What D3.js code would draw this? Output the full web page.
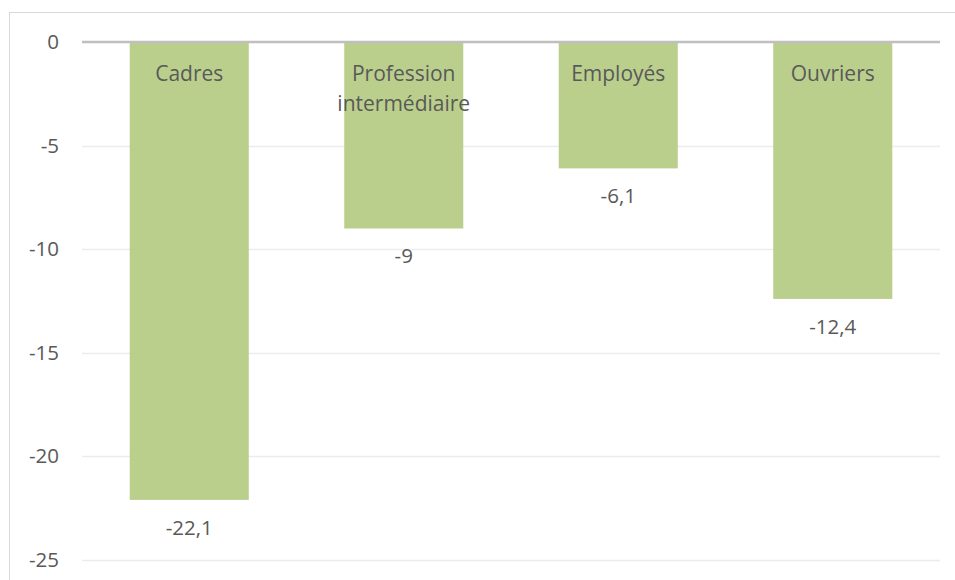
<!DOCTYPE html>
<html>
<head>
<meta charset="utf-8">
<script src="https://cdn.jsdelivr.net/npm/d3@7"></script>
<style>
  html, body { margin: 0; padding: 0; background: #fff; }
  svg { display: block; }
  text { font-family: "Open Sans", "Noto Sans", sans-serif; fill: #595959; }
</style>
</head>
<body>
<svg id="chart" width="955" height="580"></svg>
<script>
// Variation par catégorie socioprofessionnelle
const categories = ["Cadres", "Profession intermédiaire", "Employés", "Ouvriers"];
const categoryLines = [["Cadres"], ["Profession", "intermédiaire"], ["Employés"], ["Ouvriers"]];
const values = [-22.1, -9, -6.1, -12.4];
const valueLabels = ["-22,1", "-9", "-6,1", "-12,4"];
const yTicks = [0, -5, -10, -15, -20, -25];

const svg = d3.select("#chart");
const W = 955, H = 580;
const plot = { left: 82, right: 940, top: 42, bottom: 560 };
const labelSize = 21, numberSize = 20.5;

// outer chart frame
svg.append("rect")
  .attr("x", 9.5).attr("y", 12.5)
  .attr("width", W).attr("height", H)
  .attr("fill", "none").attr("stroke", "#d9d9d9").attr("stroke-width", 1);

const x = d3.scaleBand()
  .domain(categories)
  .range([plot.left, plot.right])
  .paddingInner(0.445).paddingOuter(0.2225);

const y = d3.scaleLinear()
  .domain([0, -25])
  .range([plot.top, plot.bottom]);

// horizontal gridlines
svg.append("g")
  .selectAll("line")
  .data(yTicks.filter(t => t !== 0))
  .join("line")
  .attr("x1", plot.left).attr("x2", plot.right)
  .attr("y1", d => Math.round(y(d)) + 0.5).attr("y2", d => Math.round(y(d)) + 0.5)
  .attr("stroke", "#ececec").attr("stroke-width", 1.5);

// y axis labels
const yAxis = d3.axisLeft(y).tickValues(yTicks).tickSize(0).tickPadding(0)
  .tickFormat(d => d3.format("d")(d).replace("−", "-"));
const gy = svg.append("g").attr("transform", `translate(59,0)`).call(yAxis);
gy.select(".domain").remove();
gy.selectAll("text")
  .attr("font-size", numberSize)
  .attr("font-family", "\"Open Sans\", sans-serif")
  .attr("fill", "#595959");

// bars
svg.append("g")
  .selectAll("rect")
  .data(categories)
  .join("rect")
  .attr("x", d => x(d))
  .attr("width", x.bandwidth())
  .attr("y", y(0))
  .attr("height", (d, i) => y(values[i]) - y(0))
  .attr("fill", "#bbcf8c");

// zero baseline
svg.append("line")
  .attr("x1", plot.left).attr("x2", plot.right)
  .attr("y1", y(0)).attr("y2", y(0))
  .attr("stroke", "#bfbfbf").attr("stroke-width", 2.5);

// category labels inside the bars, near the baseline
const catG = svg.append("g");
categories.forEach((c, i) => {
  const t = catG.append("text")
    .attr("x", x(c) + x.bandwidth() / 2)
    .attr("y", y(0) + 39)
    .attr("text-anchor", "middle")
    .attr("font-size", labelSize);
  categoryLines[i].forEach((line, j) => {
    t.append("tspan")
      .attr("x", x(c) + x.bandwidth() / 2)
      .attr("dy", j === 0 ? 0 : 30)
      .text(line);
  });
});

// value labels under bar ends
svg.append("g")
  .selectAll("text")
  .data(categories)
  .join("text")
  .attr("x", d => x(d) + x.bandwidth() / 2)
  .attr("y", (d, i) => y(values[i]) + 35)
  .attr("text-anchor", "middle")
  .attr("font-size", numberSize)
  .text((d, i) => valueLabels[i]);
</script>
</body>
</html>
